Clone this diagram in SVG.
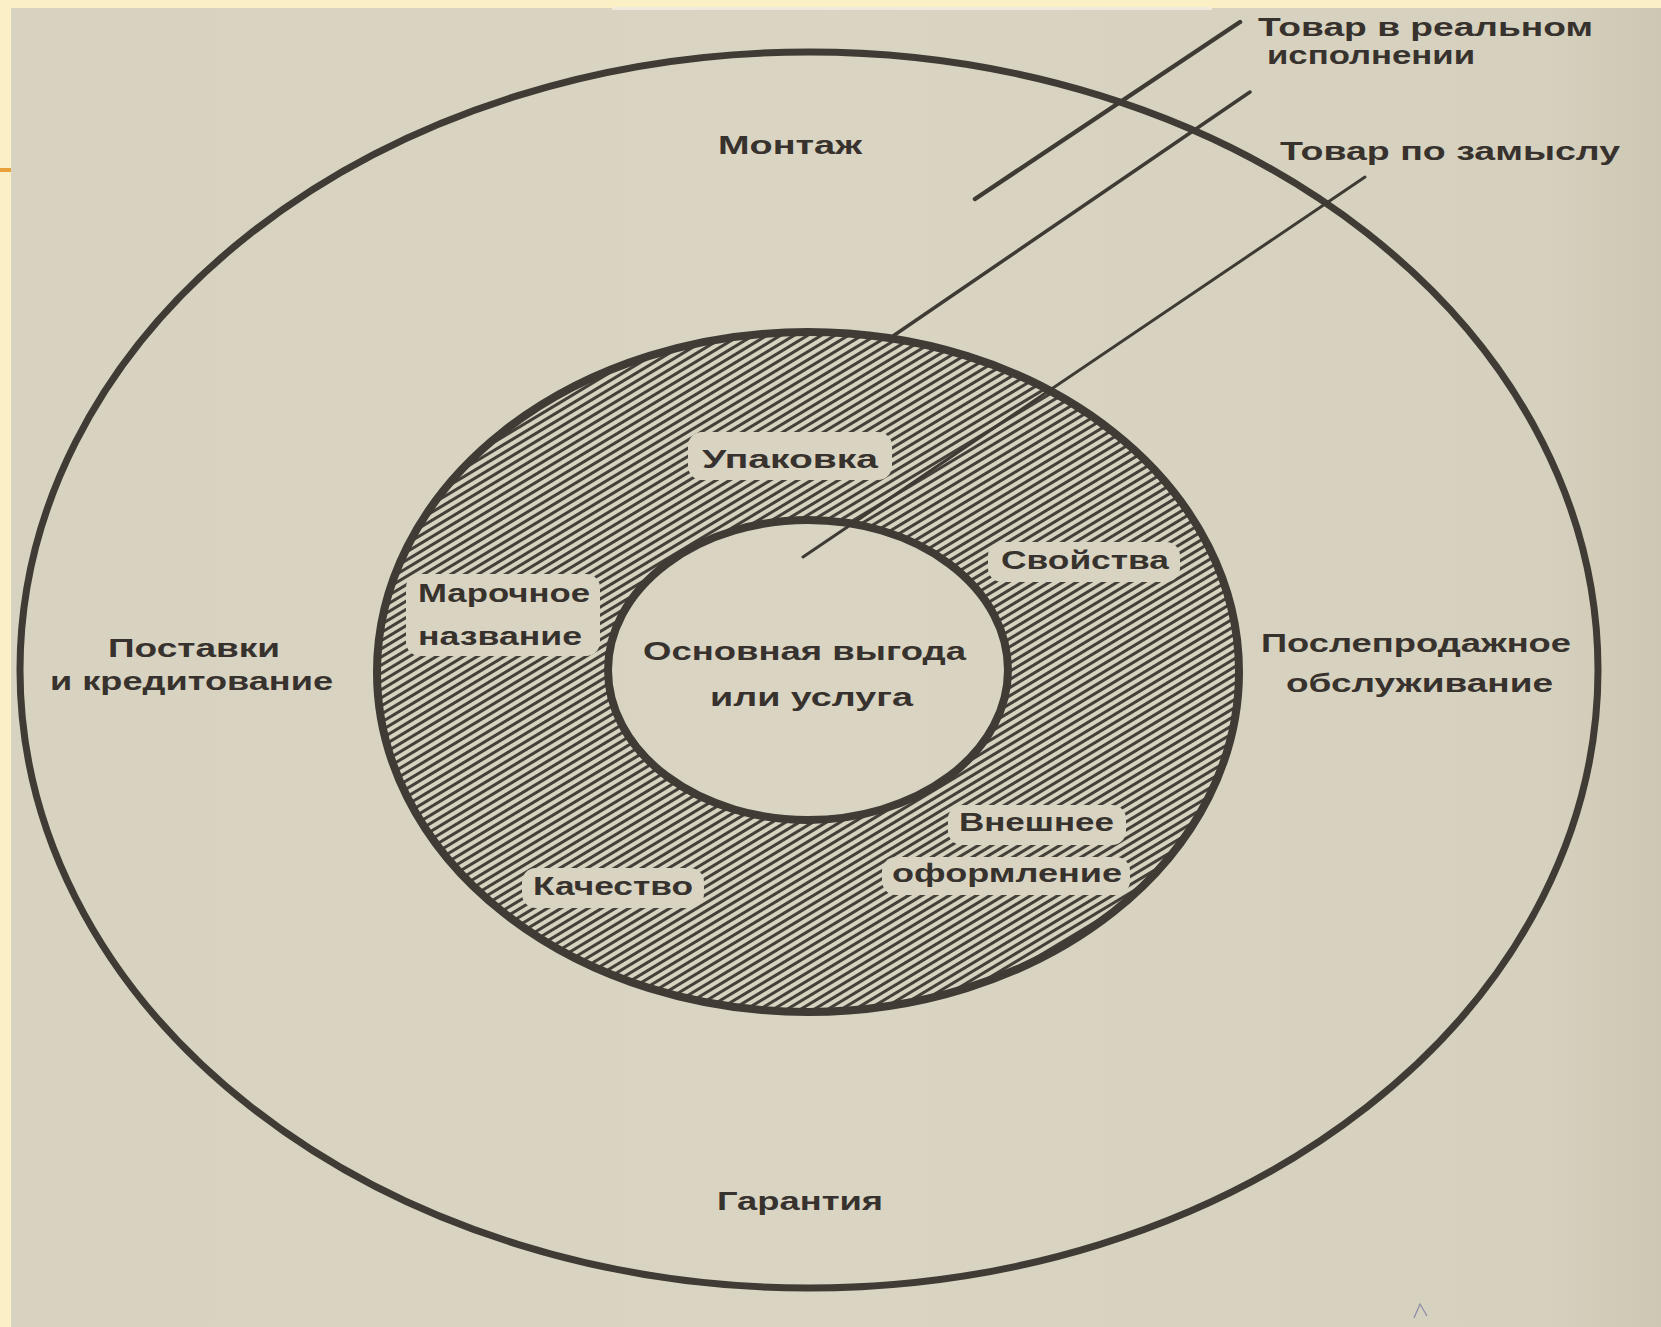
<svg xmlns="http://www.w3.org/2000/svg" width="1661" height="1327" viewBox="0 0 1661 1327">
  <defs>
    <pattern id="hatch" patternUnits="userSpaceOnUse" width="7" height="7" patternTransform="rotate(-31)">
      <rect width="7" height="7" fill="#d8d3c1"/>
      <line x1="0" y1="3.5" x2="7" y2="3.5" stroke="#443f38" stroke-width="3"/>
    </pattern>
    <linearGradient id="paper" x1="0" y1="0" x2="1" y2="0">
      <stop offset="0" stop-color="#d8d3c1"/>
      <stop offset="0.5" stop-color="#dad5c3"/>
      <stop offset="0.93" stop-color="#d6d1be"/>
      <stop offset="1" stop-color="#cdc7b3"/>
    </linearGradient>
  </defs>
  <style>
    .ring { fill: none; stroke: #403b35; }
    .lead { stroke: #3f3a34; stroke-linecap: round; fill: none; }
    .t { font-family: "Liberation Sans", Arial, sans-serif; font-weight: bold; font-size: 26px; fill: #37322d; }
    .clear { fill: #d9d4c2; }
  </style>

  <!-- slide background and photo -->
  <rect x="0" y="0" width="1661" height="1327" fill="#fbefc6"/>
  <rect x="11" y="8" width="1650" height="1319" fill="url(#paper)"/>
  <rect x="612" y="7" width="600" height="3" fill="#efeadb"/>
  <rect x="0" y="168" width="11" height="4" fill="#e8a13a"/>

  <!-- hatched ring -->
  <g id="ring-real">
    <path d="M377,672 a431,340 0 1,0 862,0 a431,340 0 1,0 -862,0 Z M608,670 a200,150 0 1,0 400,0 a200,150 0 1,0 -400,0 Z" fill="url(#hatch)" fill-rule="evenodd"/>
    <rect class="clear" x="688" y="432" width="204" height="48" rx="14"/>
    <rect class="clear" x="988" y="542" width="192" height="40" rx="14"/>
    <rect class="clear" x="406" y="574" width="194" height="82" rx="14"/>
    <rect class="clear" x="522" y="868" width="182" height="40" rx="14"/>
    <rect class="clear" x="948" y="805" width="178" height="40" rx="14"/>
    <rect class="clear" x="882" y="857" width="248" height="38" rx="14"/>
  </g>

  <!-- outlines -->
  <g id="outer">
    <ellipse class="ring" cx="809" cy="670" rx="789" ry="618" stroke-width="7"/>
  </g>
  <g id="middle">
    <ellipse class="ring" cx="808" cy="672" rx="431" ry="340" stroke-width="8"/>
  </g>
  <g id="inner">
    <ellipse class="ring" cx="808" cy="670" rx="200" ry="150" stroke-width="8"/>
  </g>

  <!-- connectors -->
  <g id="connectors">
    <line class="lead" x1="1240" y1="22" x2="975" y2="199" stroke-width="4.5"/>
    <line class="lead" x1="1250" y1="92" x2="893" y2="336" stroke-width="3.5"/>
    <line class="lead" x1="1365" y1="177" x2="803" y2="557" stroke-width="3"/>
    <path d="M1414,1318 L1420,1304 L1427,1316" stroke="#8a8aa8" stroke-width="1.2" fill="none"/>
  </g>

  <!-- labels -->
  <g id="label-real">
    <text class="t" x="1258" y="36" font-size="24" textLength="335" lengthAdjust="spacingAndGlyphs">Товар в реальном</text>
    <text class="t" x="1267" y="64" font-size="24" textLength="208" lengthAdjust="spacingAndGlyphs">исполнении</text>
  </g>
  <g id="label-concept">
    <text class="t" x="1280" y="160" font-size="24" textLength="340" lengthAdjust="spacingAndGlyphs">Товар по замыслу</text>
  </g>
  <g id="montage">
    <text class="t" x="718" y="154" font-size="28" textLength="144" lengthAdjust="spacingAndGlyphs">Монтаж</text>
  </g>
  <g id="delivery">
    <text class="t" x="108" y="657" textLength="172" lengthAdjust="spacingAndGlyphs">Поставки</text>
    <text class="t" x="50" y="690" textLength="283" lengthAdjust="spacingAndGlyphs">и кредитование</text>
  </g>
  <g id="aftersales">
    <text class="t" x="1261" y="652" textLength="310" lengthAdjust="spacingAndGlyphs">Послепродажное</text>
    <text class="t" x="1286" y="692" textLength="267" lengthAdjust="spacingAndGlyphs">обслуживание</text>
  </g>
  <g id="warranty">
    <text class="t" x="717" y="1210" font-size="27" textLength="166" lengthAdjust="spacingAndGlyphs">Гарантия</text>
  </g>
  <g id="packaging">
    <text class="t" x="702" y="468" textLength="176" lengthAdjust="spacingAndGlyphs">Упаковка</text>
  </g>
  <g id="properties">
    <text class="t" x="1001" y="569" textLength="168" lengthAdjust="spacingAndGlyphs">Свойства</text>
  </g>
  <g id="brand">
    <text class="t" x="418" y="602" textLength="172" lengthAdjust="spacingAndGlyphs">Марочное</text>
    <text class="t" x="418" y="645" textLength="164" lengthAdjust="spacingAndGlyphs">название</text>
  </g>
  <g id="core">
    <text class="t" x="643" y="660" textLength="323" lengthAdjust="spacingAndGlyphs">Основная выгода</text>
    <text class="t" x="710" y="706" textLength="203" lengthAdjust="spacingAndGlyphs">или услуга</text>
  </g>
  <g id="design">
    <text class="t" x="959" y="831" textLength="155" lengthAdjust="spacingAndGlyphs">Внешнее</text>
    <text class="t" x="892" y="882" textLength="230" lengthAdjust="spacingAndGlyphs">оформление</text>
  </g>
  <g id="quality">
    <text class="t" x="533" y="895" textLength="160" lengthAdjust="spacingAndGlyphs">Качество</text>
  </g>
</svg>
